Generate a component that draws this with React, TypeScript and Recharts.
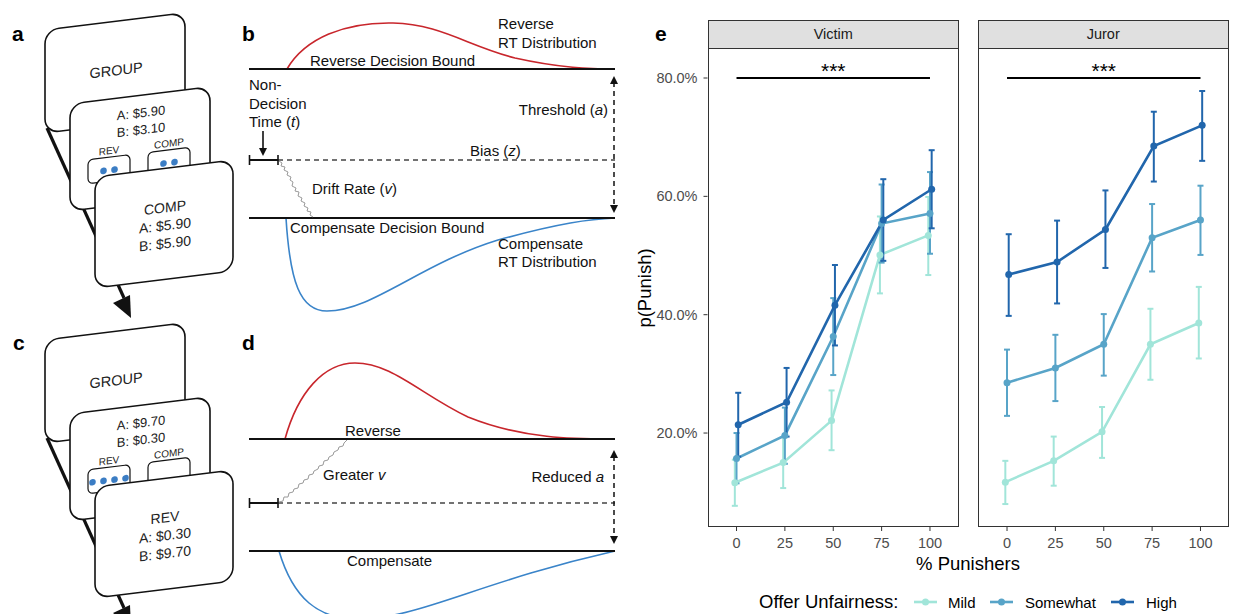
import React from 'react';
import { LineChart, Line, XAxis, YAxis, ErrorBar, ReferenceLine, ReferenceDot } from 'recharts';

// x categories (% punishers) and facet / group names
const punisherLevels = ['0', '25', '50', '75', '100'];
const unfairnessLevels = ['Mild', 'Somewhat', 'High'];
const yTicks = [0.2, 0.4, 0.6, 0.8];

// Victim facet: mean p(punish) with lower / upper error bounds
const victimMild = [0.116, 0.150, 0.221, 0.501, 0.534];
const victimMildLow = [0.077, 0.107, 0.171, 0.436, 0.467];
const victimMildHigh = [0.155, 0.193, 0.272, 0.566, 0.599];
const victimSomewhat = [0.157, 0.196, 0.363, 0.554, 0.571];
const victimSomewhatLow = [0.115, 0.148, 0.298, 0.488, 0.503];
const victimSomewhatHigh = [0.200, 0.243, 0.428, 0.620, 0.641];
const victimHigh = [0.214, 0.252, 0.416, 0.560, 0.612];
const victimHighLow = [0.160, 0.194, 0.348, 0.491, 0.546];
const victimHighHigh = [0.268, 0.310, 0.484, 0.629, 0.678];

// Juror facet
const jurorMild = [0.117, 0.153, 0.202, 0.350, 0.386];
const jurorMildLow = [0.080, 0.111, 0.158, 0.290, 0.326];
const jurorMildHigh = [0.153, 0.194, 0.244, 0.410, 0.447];
const jurorSomewhat = [0.285, 0.310, 0.350, 0.530, 0.560];
const jurorSomewhatLow = [0.229, 0.254, 0.297, 0.473, 0.501];
const jurorSomewhatHigh = [0.341, 0.366, 0.401, 0.587, 0.618];
const jurorHigh = [0.468, 0.489, 0.544, 0.685, 0.720];
const jurorHighLow = [0.398, 0.419, 0.479, 0.625, 0.660];
const jurorHighHigh = [0.536, 0.559, 0.610, 0.743, 0.778];

const colors: Record<string, string> = { Mild: '#a1e5d9', Somewhat: '#58a4c8', High: '#2166ac' };
const dodge: Record<string, number> = { Mild: -0.035, Somewhat: 0, High: 0.035 };

const FONT = '"Liberation Sans", Arial, Helvetica, sans-serif';

type Pt = { x: number; y: number; err: [number, number] };

const build = (means: number[], lo: number[], hi: number[], group: string): Pt[] =>
  means.map((m, i) => ({ x: i + 1 + dodge[group], y: m, err: [m - lo[i], hi[i] - m] }));

const victimSeries = {
  Mild: build(victimMild, victimMildLow, victimMildHigh, 'Mild'),
  Somewhat: build(victimSomewhat, victimSomewhatLow, victimSomewhatHigh, 'Somewhat'),
  High: build(victimHigh, victimHighLow, victimHighHigh, 'High'),
};
const jurorSeries = {
  Mild: build(jurorMild, jurorMildLow, jurorMildHigh, 'Mild'),
  Somewhat: build(jurorSomewhat, jurorSomewhatLow, jurorSomewhatHigh, 'Somewhat'),
  High: build(jurorHigh, jurorHighLow, jurorHighHigh, 'High'),
};

const PLOT_TOP = 48;
const PLOT_H = 479;
const PLOT_W = 251.5;
const Y_AXIS_W = 67.5;

const FacetPanel: React.FC<{ title: string; series: Record<string, Pt[]>; left: number; showY: boolean }> = ({
  title,
  series,
  left,
  showY,
}) => {
  const chartLeft = showY ? left - Y_AXIS_W : left;
  const chartW = showY ? PLOT_W + Y_AXIS_W : PLOT_W;
  return (
    <>
      <div
        style={{
          position: 'absolute', left, top: 19.5, width: PLOT_W, height: PLOT_TOP - 19.5 + 1,
          background: '#e0e0e0', border: '1px solid #333', boxSizing: 'border-box',
          display: 'flex', alignItems: 'center', justifyContent: 'center',
          fontFamily: FONT, fontSize: 14.5, color: '#1a1a1a',
        }}
      >
        {title}
      </div>
      <div style={{ position: 'absolute', left: chartLeft, top: PLOT_TOP }}>
        <LineChart width={chartW} height={PLOT_H + 40} margin={{ top: 0, right: 0, bottom: 0, left: 0 }}>
          <XAxis
            type="number"
            dataKey="x"
            domain={[0.4, 5.6]}
            ticks={[1, 2, 3, 4, 5]}
            tickFormatter={(v: number) => punisherLevels[Math.round(v) - 1]}
            axisLine={false}
            tickLine={{ stroke: '#333' }}
            tickSize={4}
            tickMargin={7}
            height={40}
            tick={{ fill: '#4d4d4d', fontSize: 14.5, fontFamily: FONT }}
            allowDataOverflow
          />
          <YAxis
            type="number"
            domain={[0.0412, 0.8507]}
            ticks={yTicks}
            hide={!showY}
            width={Y_AXIS_W}
            tickFormatter={(v: number) => `${(v * 100).toFixed(1)}%`}
            axisLine={false}
            tickLine={{ stroke: '#333' }}
            tickSize={4}
            tickMargin={6}
            tick={{ fill: '#4d4d4d', fontSize: 14.5, fontFamily: FONT }}
            allowDataOverflow
          />
          <ReferenceLine
            segment={[{ x: 1, y: 0.8 }, { x: 5, y: 0.8 }]}
            stroke="#000"
            strokeWidth={2}
          />
          <ReferenceDot
            x={3}
            y={0.8}
            r={0}
            fill="none"
            stroke="none"
            label={{ value: '***', position: 'top', offset: 0, fill: '#000', fontSize: 21, fontFamily: FONT }}
          />
          {unfairnessLevels.map((g) => (
            <Line
              key={g}
              data={series[g]}
              dataKey="y"
              stroke={colors[g]}
              strokeWidth={2.6}
              dot={{ r: 3.5, fill: colors[g], stroke: colors[g], strokeWidth: 0 }}
              activeDot={false}
              isAnimationActive={false}
            >
              <ErrorBar dataKey="err" direction="y" width={3} stroke={colors[g]} strokeWidth={2} />
            </Line>
          ))}
        </LineChart>
      </div>
      <div
        style={{
          position: 'absolute', left, top: PLOT_TOP, width: PLOT_W, height: PLOT_H,
          border: '1px solid #333', boxSizing: 'border-box', pointerEvents: 'none',
        }}
      />
    </>
  );
};

// ---- illustration panels (a-d) ----
const SKEW = -7;
const ink = '#111';

const Card: React.FC<{ x: number; y: number; w: number; h: number; children?: React.ReactNode }> = ({ x, y, w, h, children }) => (
  <g transform={`translate(${x},${y}) skewY(${SKEW})`}>
    <rect x={0} y={0} width={w} height={h} rx={14} fill="#fff" stroke={ink} strokeWidth={1.6} />
    {children}
  </g>
);

const dot = '#3b7dc4';

const TrialStack: React.FC<{ dy: number; offer: [string, string]; revDots: number; compDots: number; choice: string; result: [string, string] }> = ({
  dy, offer, revDots, compDots, choice, result,
}) => (
  <g transform={`translate(0,${dy})`} fontFamily={FONT} fill="#222">
    <line x1={47} y1={128} x2={124} y2={298} stroke={ink} strokeWidth={3.2} />
    <polygon points="131,318 130,295 113,303" fill={ink} />
    <Card x={45} y={30} w={140} h={103}>
      <text x={71} y={54} textAnchor="middle" fontSize={14.5}>GROUP</text>
    </Card>
    <Card x={70} y={104} w={140} h={107}>
      <text x={71} y={22} textAnchor="middle" fontSize={13}>{offer[0]}</text>
      <text x={71} y={39} textAnchor="middle" fontSize={13}>{offer[1]}</text>
      <text x={39} y={55} textAnchor="middle" fontSize={10}>REV</text>
      <text x={99} y={55} textAnchor="middle" fontSize={10}>COMP</text>
      <rect x={18} y={58} width={42} height={24} rx={5} fill="#fff" stroke={ink} strokeWidth={1.2} />
      <rect x={78} y={58} width={42} height={24} rx={5} fill="#fff" stroke={ink} strokeWidth={1.2} />
      {Array.from({ length: revDots }).map((_, i) => (
        <circle key={'r' + i} cx={39 - (revDots - 1) * 5.5 + i * 11} cy={71} r={3.3} fill={dot} />
      ))}
      {Array.from({ length: compDots }).map((_, i) => (
        <circle key={'c' + i} cx={99 - (compDots - 1) * 5.5 + i * 11} cy={71} r={3.3} fill={dot} />
      ))}
    </Card>
    <Card x={95} y={177} w={138} h={111}>
      <text x={70} y={44} textAnchor="middle" fontSize={14}>{choice}</text>
      <text x={70} y={62} textAnchor="middle" fontSize={14}>{result[0]}</text>
      <text x={70} y={80} textAnchor="middle" fontSize={14}>{result[1]}</text>
    </Card>
  </g>
);

const Arrowhead: React.FC<{ x: number; y: number; dir: 'up' | 'down' }> = ({ x, y, dir }) =>
  dir === 'down' ? (
    <polygon points={`${x},${y} ${x - 4},${y - 8} ${x + 4},${y - 8}`} fill={ink} />
  ) : (
    <polygon points={`${x},${y} ${x - 4},${y + 8} ${x + 4},${y + 8}`} fill={ink} />
  );

const DdmPanels: React.FC = () => (
  <g fontFamily={FONT} fill={ink} fontSize={15}>
    {/* panel b */}
    <path d="M287,69 C305,38 345,22 393,23 C440,24 468,46 515,58 C560,68 590,69 615,69" fill="none" stroke="#c8262c" strokeWidth={1.6} />
    <path d="M286,218 C290,282 300,311 327,311 C372,311 420,264 498,240 C560,223 590,219 615,218" fill="none" stroke="#3a84c9" strokeWidth={1.6} />
    <line x1={249} y1={69} x2={615} y2={69} stroke={ink} strokeWidth={2} />
    <line x1={249} y1={218} x2={615} y2={218} stroke={ink} strokeWidth={2} />
    <line x1={278} y1={160} x2={615} y2={160} stroke="#444" strokeWidth={1.4} strokeDasharray="5 4" />
    <line x1={249} y1={160} x2={278} y2={160} stroke={ink} strokeWidth={2} />
    <line x1={249.5} y1={155} x2={249.5} y2={165} stroke={ink} strokeWidth={1.6} />
    <line x1={278} y1={155} x2={278} y2={165} stroke={ink} strokeWidth={1.6} />
    <line x1={263} y1={131} x2={263} y2={150} stroke={ink} strokeWidth={1.6} />
    <Arrowhead x={263} y={156} dir="down" />
    <polyline
      points="279,161 282,163 281,166 285,167 284,170 288,172 287,175 291,177 290,180 293,182 292,186 296,188 295,191 299,192 298,196 302,198 301,201 305,203 304,206 308,208 307,211 311,212 310,215 313,217"
      fill="none" stroke="#9a9a9a" strokeWidth={1}
    />
    <line x1={614} y1={82} x2={614} y2={206} stroke={ink} strokeWidth={1.5} strokeDasharray="5 4" />
    <Arrowhead x={614} y={76} dir="up" />
    <Arrowhead x={614} y={213} dir="down" />
    <text x={310} y={66}>Reverse Decision Bound</text>
    <text x={498} y={29}>Reverse</text>
    <text x={498} y={48}>RT Distribution</text>
    <text x={249} y={90}>Non-</text>
    <text x={249} y={109}>Decision</text>
    <text x={249} y={127}>Time (<tspan fontStyle="italic">t</tspan>)</text>
    <text x={608} y={115} textAnchor="end">Threshold (<tspan fontStyle="italic">a</tspan>)</text>
    <text x={470} y={156}>Bias (<tspan fontStyle="italic">z</tspan>)</text>
    <text x={312} y={194}>Drift Rate (<tspan fontStyle="italic">v</tspan>)</text>
    <text x={290} y={233}>Compensate Decision Bound</text>
    <text x={498} y={249}>Compensate</text>
    <text x={498} y={267}>RT Distribution</text>

    {/* panel d */}
    <path d="M285,439 C298,392 324,363 355,363 C392,363 420,394 468,417 C525,440 580,439 615,439" fill="none" stroke="#c8262c" strokeWidth={1.6} />
    <path d="M279,551 C293,598 318,620 360,619 C420,618 478,582 615,551" fill="none" stroke="#3a84c9" strokeWidth={1.6} />
    <line x1={249} y1={439} x2={615} y2={439} stroke={ink} strokeWidth={2} />
    <line x1={249} y1={551} x2={615} y2={551} stroke={ink} strokeWidth={2} />
    <line x1={278} y1={503} x2={615} y2={503} stroke="#444" strokeWidth={1.4} strokeDasharray="5 4" />
    <line x1={249} y1={503} x2={278} y2={503} stroke={ink} strokeWidth={2} />
    <line x1={249.5} y1={498} x2={249.5} y2={508} stroke={ink} strokeWidth={1.6} />
    <line x1={278} y1={498} x2={278} y2={508} stroke={ink} strokeWidth={1.6} />
    <polyline
      points="279,502 283,501 284,497 288,497 289,493 293,492 294,489 298,488 299,484 303,483 304,480 308,479 309,475 313,474 314,471 318,469 319,466 323,465 324,461 328,460 329,457 333,455 334,452 338,450 339,447 343,446 344,443 347,440"
      fill="none" stroke="#9a9a9a" strokeWidth={1}
    />
    <line x1={614} y1={456} x2={614} y2={537} stroke={ink} strokeWidth={1.5} strokeDasharray="5 4" />
    <Arrowhead x={614} y={450} dir="up" />
    <Arrowhead x={614} y={544} dir="down" />
    <text x={345} y={436}>Reverse</text>
    <text x={323} y={480}>Greater <tspan fontStyle="italic">v</tspan></text>
    <text x={604} y={482} textAnchor="end">Reduced <tspan fontStyle="italic">a</tspan></text>
    <text x={347} y={566}>Compensate</text>
  </g>
);

const App: React.FC = () => {
  const legendItems = [
    { g: 'Mild', key: 914, label: 948 },
    { g: 'Somewhat', key: 990, label: 1025 },
    { g: 'High', key: 1111, label: 1146 },
  ];
  return (
    <div style={{ position: 'absolute', left: 0, top: 0, width: 1236, height: 614, background: '#fff', overflow: 'hidden' }}>
      <svg width={1236} height={614} style={{ position: 'absolute', left: 0, top: 0 }}>
        <g fontFamily={FONT} fontWeight="bold" fontSize={21} fill="#000">
          <text x={12} y={41}>a</text>
          <text x={242} y={41}>b</text>
          <text x={13} y={350}>c</text>
          <text x={242} y={350}>d</text>
          <text x={655} y={41}>e</text>
        </g>
        <TrialStack dy={310} offer={['A: $9.70', 'B: $0.30']} revDots={4} compDots={0} choice="REV" result={['A: $0.30', 'B: $9.70']} />
        <TrialStack dy={0} offer={['A: $5.90', 'B: $3.10']} revDots={2} compDots={2} choice="COMP" result={['A: $5.90', 'B: $5.90']} />
        <DdmPanels />
        <text
          x={651}
          y={288}
          transform="rotate(-90 651 288)"
          textAnchor="middle"
          fontFamily={FONT}
          fontSize={18.5}
          fill="#000"
        >
          p(Punish)
        </text>
        <text x={968} y={570} textAnchor="middle" fontFamily={FONT} fontSize={18.5} fill="#000">
          % Punishers
        </text>
        <text x={759} y={608} fontFamily={FONT} fontSize={18.5} fill="#000">
          Offer Unfairness:
        </text>
        {legendItems.map((it) => (
          <g key={it.g}>
            <line x1={it.key} y1={602} x2={it.key + 23} y2={602} stroke={colors[it.g]} strokeWidth={2.6} />
            <circle cx={it.key + 11.5} cy={602} r={3.5} fill={colors[it.g]} />
            <text x={it.label} y={607.5} fontFamily={FONT} fontSize={15} fill="#000">
              {it.g}
            </text>
          </g>
        ))}
      </svg>
      <FacetPanel title="Victim" series={victimSeries} left={707.5} showY />
      <FacetPanel title="Juror" series={jurorSeries} left={977.5} showY={false} />
    </div>
  );
};

export default App;
